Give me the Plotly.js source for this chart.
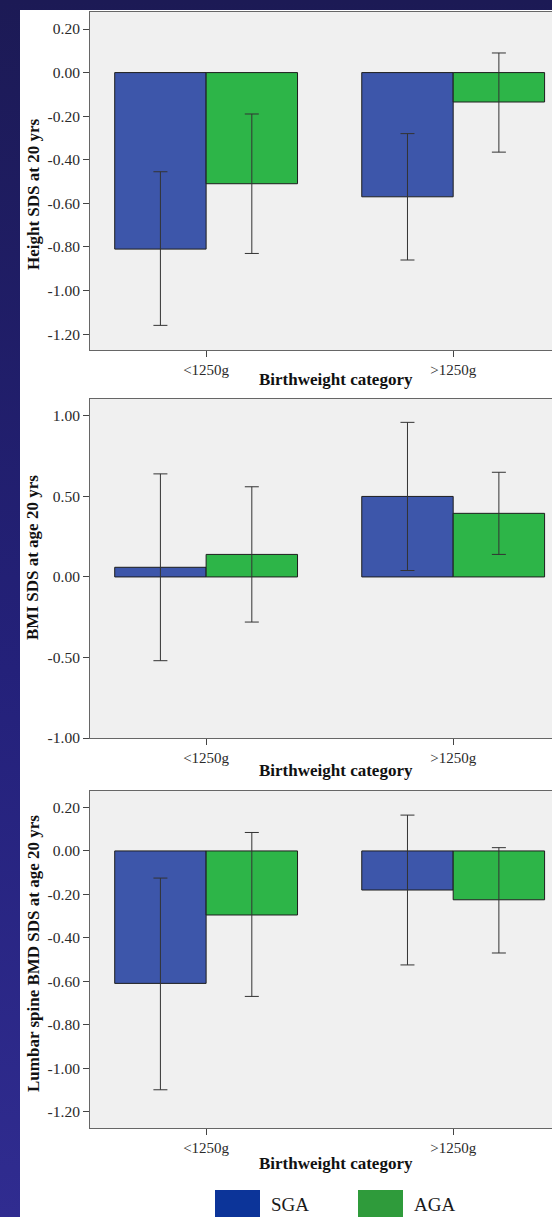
<!DOCTYPE html>
<html>
<head>
<meta charset="utf-8">
<script src="https://cdn.plot.ly/plotly-3.0.1.min.js"></script>
<style>
  html, body { margin: 0; padding: 0; }
  body {
    width: 552px; height: 1217px; overflow: hidden; position: relative;
    background: linear-gradient(to bottom, #1c1a55 0%, #24217a 55%, #302c90 100%);
  }
  #sheet { position: absolute; left: 20px; top: 10px; width: 532px; height: 1207px; background: #ffffff; }
  #chart { position: absolute; left: 0; top: 0; width: 552px; height: 1217px; }
</style>
</head>
<body>
<div id="sheet"></div>
<div id="chart"></div>
<script>
// Birthweight groups and the two size-for-gestational-age series
const categories = ['<1250g', '>1250g'];
const seriesNames = ['SGA', 'AGA'];

// Height SDS at 20 yrs: mean and 95% CI
const heightSGA = [-0.81, -0.57];
const heightSGALow = [-1.16, -0.86];
const heightSGAHigh = [-0.455, -0.28];
const heightAGA = [-0.51, -0.135];
const heightAGALow = [-0.83, -0.365];
const heightAGAHigh = [-0.19, 0.09];

// BMI SDS at age 20 yrs
const bmiSGA = [0.06, 0.50];
const bmiSGALow = [-0.52, 0.04];
const bmiSGAHigh = [0.64, 0.96];
const bmiAGA = [0.14, 0.395];
const bmiAGALow = [-0.28, 0.14];
const bmiAGAHigh = [0.56, 0.65];

// Lumbar spine BMD SDS at age 20 yrs
const bmdSGA = [-0.61, -0.18];
const bmdSGALow = [-1.10, -0.525];
const bmdSGAHigh = [-0.125, 0.165];
const bmdAGA = [-0.295, -0.225];
const bmdAGALow = [-0.67, -0.47];
const bmdAGAHigh = [0.085, 0.015];

// Axis labels and tick values
const yTitles = ['Height SDS at 20 yrs', 'BMI SDS at age 20 yrs', 'Lumbar spine BMD SDS at age 20 yrs'];
const xTitle = 'Birthweight category';
const heightTicks = [0.2, 0, -0.2, -0.4, -0.6, -0.8, -1.0, -1.2];
const bmiTicks = [1.0, 0.5, 0, -0.5, -1.0];
const bmdTicks = [0.2, 0, -0.2, -0.4, -0.6, -0.8, -1.0, -1.2];

// ---- styling ----
const W = 552, H = 1217;
const px = x => x / W;
const py = y => 1 - y / H;
const serif = 'Liberation Serif, Times New Roman, serif';
const barColors = ['#3d56aa', '#2db548'];
const keyColors = ['#0c3499', '#2f9b3b'];
const errStyle = { color: '#333333', thickness: 1, width: 7 };

function barTrace(name, means, lows, highs, color, ax) {
  return {
    type: 'bar', name: name, x: categories, y: means,
    xaxis: 'x' + ax, yaxis: 'y' + ax, showlegend: false,
    marker: { color: color, line: { color: '#1e1e1e', width: 1 } },
    error_y: Object.assign({
      type: 'data', symmetric: false,
      array: means.map((m, i) => highs[i] - m),
      arrayminus: means.map((m, i) => m - lows[i])
    }, errStyle),
    hoverinfo: 'x+y'
  };
}

const data = [
  barTrace(seriesNames[0], heightSGA, heightSGALow, heightSGAHigh, barColors[0], ''),
  barTrace(seriesNames[1], heightAGA, heightAGALow, heightAGAHigh, barColors[1], ''),
  barTrace(seriesNames[0], bmiSGA, bmiSGALow, bmiSGAHigh, barColors[0], '2'),
  barTrace(seriesNames[1], bmiAGA, bmiAGALow, bmiAGAHigh, barColors[1], '2'),
  barTrace(seriesNames[0], bmdSGA, bmdSGALow, bmdSGAHigh, barColors[0], '3'),
  barTrace(seriesNames[1], bmdAGA, bmdAGALow, bmdAGAHigh, barColors[1], '3')
];

const tickFont = { family: serif, size: 15.5, color: '#2a2a2a' };
const titleFont = { family: serif, size: 17, color: '#111111', weight: 'bold' };

function xAxis(anchor) {
  return {
    anchor: anchor, domain: [px(90), 1], type: 'category',
    range: [-0.47, 1.40], showgrid: false, zeroline: false,
    showline: true, mirror: true, linecolor: '#666666', linewidth: 1,
    ticks: 'outside', ticklen: 6, tickcolor: '#444444',
    tickfont: Object.assign({}, tickFont, { size: 15 }),
    fixedrange: true
  };
}
function yAxis(anchor, top, bottom, range, ticks) {
  return {
    anchor: anchor, domain: [py(bottom), py(top)], range: range,
    showgrid: false, zeroline: false,
    showline: true, mirror: false, linecolor: '#666666', linewidth: 1,
    ticks: 'outside', ticklen: 6, tickcolor: '#444444', tickfont: tickFont,
    tickvals: ticks, ticktext: ticks.map(v => v.toFixed(2)),
    fixedrange: true
  };
}

const panels = [
  { top: 12, bottom: 350, yTitleY: 194, xTitleY: 380 },
  { top: 399, bottom: 738, yTitleY: 558, xTitleY: 770 },
  { top: 791, bottom: 1128, yTitleY: 954, xTitleY: 1163 }
];

const annotations = [];
panels.forEach((p, i) => {
  annotations.push({
    xref: 'paper', yref: 'paper', x: px(33), y: py(p.yTitleY),
    text: yTitles[i], textangle: -90, showarrow: false,
    xanchor: 'center', yanchor: 'middle', font: titleFont
  });
  annotations.push({
    xref: 'paper', yref: 'paper', x: px(336), y: py(p.xTitleY),
    text: xTitle, showarrow: false,
    xanchor: 'center', yanchor: 'middle', font: titleFont
  });
});

// key below the last panel
const keyBoxes = [{ x0: 215, x1: 260, tx: 269 }, { x0: 358, x1: 403, tx: 412 }];
const shapes = [];
keyBoxes.forEach((k, i) => {
  shapes.push({
    type: 'rect', xref: 'paper', yref: 'paper',
    x0: px(k.x0), x1: px(k.x1), y0: py(1190), y1: py(1230),
    fillcolor: keyColors[i], line: { width: 0 }
  });
  annotations.push({
    xref: 'paper', yref: 'paper', x: px(k.tx), y: py(1217),
    text: seriesNames[i], showarrow: false, xanchor: 'left', yanchor: 'bottom',
    font: { family: serif, size: 19, color: '#1a1a1a' }
  });
});

const layout = {
  width: W, height: H, autosize: false,
  margin: { l: 0, r: 0, t: 0, b: 0, pad: 0 },
  paper_bgcolor: 'rgba(0,0,0,0)', plot_bgcolor: '#f0f0f0',
  barmode: 'group', bargap: 0.26, bargroupgap: 0,
  showlegend: false,
  xaxis: xAxis('y'),
  yaxis: yAxis('x', panels[0].top, panels[0].bottom, [-1.273, 0.278], heightTicks),
  xaxis2: xAxis('y2'),
  yaxis2: yAxis('x2', panels[1].top, panels[1].bottom, [-1.0, 1.105], bmiTicks),
  xaxis3: xAxis('y3'),
  yaxis3: yAxis('x3', panels[2].top, panels[2].bottom, [-1.276, 0.276], bmdTicks),
  annotations: annotations,
  shapes: shapes
};

Plotly.newPlot('chart', data, layout, { displayModeBar: false, staticPlot: true });
</script>
</body>
</html>
